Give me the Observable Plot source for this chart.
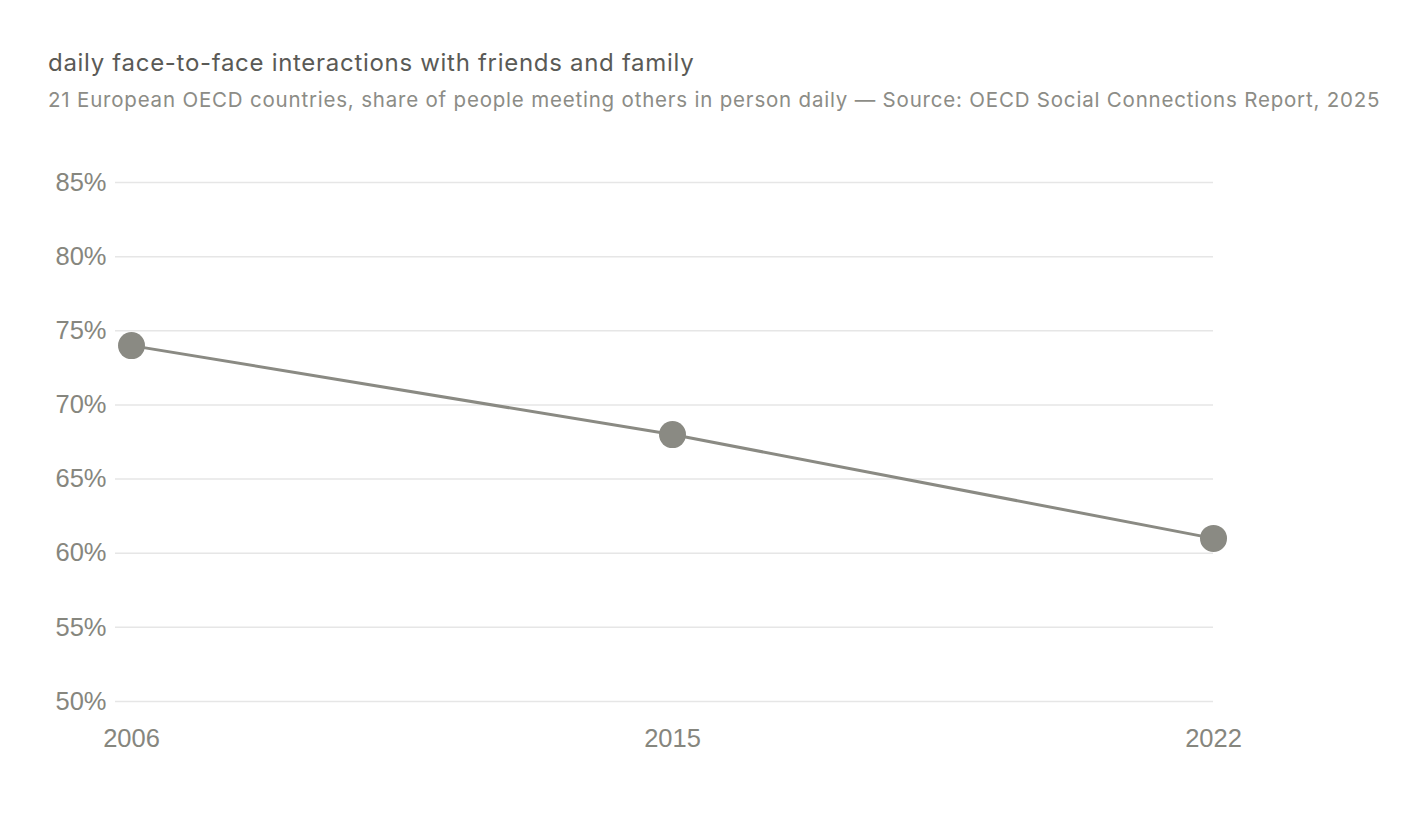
<!DOCTYPE html>
<html>
<head>
<meta charset="utf-8">
<script src="https://cdn.jsdelivr.net/npm/d3@7"></script>
<script src="https://cdn.jsdelivr.net/npm/@observablehq/plot@0.6"></script>
<style>
  html, body { margin: 0; padding: 0; background: #fff; }
  body { width: 1418px; height: 830px; position: relative; overflow: hidden; font-family: Inter, "Liberation Sans", Arial, sans-serif; }
  #title { position: absolute; left: 48px; top: 48px; font-size: 24px; letter-spacing: 0.7px; line-height: 30px; color: #5a5a56; white-space: nowrap; }
  #subtitle { position: absolute; left: 48px; top: 87px; font-size: 20.5px; letter-spacing: 0.8px; line-height: 26px; color: #8c8c86; white-space: nowrap; }
  #chart { position: absolute; left: 0; top: 140px; }
</style>
</head>
<body>
<div id="title">daily face-to-face interactions with friends and family</div>
<div id="subtitle">21 European OECD countries, share of people meeting others in person daily — Source: OECD Social Connections Report, 2025</div>
<div id="chart"></div>
<script>
const years = ["2006", "2015", "2022"];
const shares = [74, 68, 61];
const yTicks = [50, 55, 60, 65, 70, 75, 80, 85];

const data = years.map((y, i) => ({year: y, share: shares[i]}));
const ink = "#8a8a83";

const plot = Plot.plot({
  width: 1418,
  height: 621,
  marginTop: 42,
  marginBottom: 60,
  marginLeft: 115,
  marginRight: 205,
  style: {fontFamily: "'Liberation Sans', Arial, sans-serif", fontSize: "25.5px", color: "#86867e", background: "transparent"},
  x: {type: "point", domain: years, padding: 0, insetLeft: 15, label: null},
  y: {domain: [50, 85], ticks: yTicks, label: null},
  marks: [
    Plot.gridY(yTicks, {stroke: "#e6e6e6", strokeOpacity: 1, strokeWidth: 1.5}),
    Plot.axisY(yTicks, {tickSize: 0, tickPadding: 9, tickFormat: d => d + "%", label: null, fill: "#86867e"}),
    Plot.axisX(years, {tickSize: 0, tickPadding: 27, label: null, fill: "#86867e"}),
    Plot.line(data, {x: "year", y: "share", stroke: ink, strokeWidth: 3}),
    Plot.dot(data, {x: "year", y: "share", r: 13.5, fill: ink, stroke: "none"})
  ]
});
document.getElementById("chart").appendChild(plot);
</script>
</body>
</html>
